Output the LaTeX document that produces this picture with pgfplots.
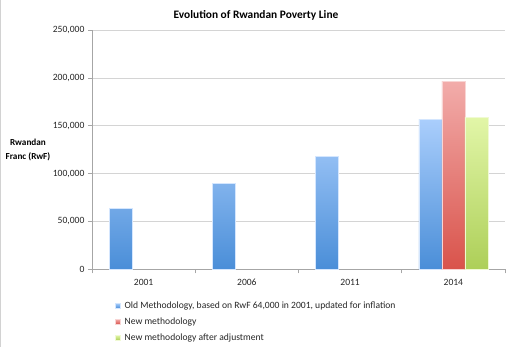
\documentclass[border=0pt]{standalone}
\usepackage{pgfplots}
\pgfplotsset{compat=1.18}
\usepackage{fontspec}
\setmainfont{Carlito}
\definecolor{bluetop}{HTML}{AACEFC}
\definecolor{bluebot}{HTML}{4A8ED8}
\definecolor{redtop}{HTML}{F2ACAA}
\definecolor{redbot}{HTML}{D9534B}
\definecolor{greentop}{HTML}{E2F6A8}
\definecolor{greenbot}{HTML}{ADCF58}
\definecolor{gridgray}{HTML}{D4D4D4}
\definecolor{axisgray}{HTML}{A6A6A6}
\begin{document}
\begin{tikzpicture}
\useasboundingbox (-92pt,-77.7pt) rectangle (420pt,269.3pt);
\draw[gray!35, line width=0.8pt] (-91.3pt,-77.7pt) -- (-91.3pt,269.3pt);
\node[font=\fontsize{11.4}{13}\selectfont\bfseries] at (164pt,253.8pt) {Evolution of Rwandan Poverty Line};
\node[font=\fontsize{9.2}{13.7}\selectfont\bfseries, align=center] at (-64pt,119.3pt) {Rwandan\\Franc (RwF)};
\begin{axis}[
  at={(0pt,0pt)}, anchor=south west,
  scale only axis, width=413pt, height=239.3pt,
  ymin=0, ymax=250000, xmin=-0.5, xmax=3.5,
  ybar=0pt, bar width=23pt,
  xtick={0,1,2,3}, xticklabels={2001,2006,2011,2014},
  major x tick style={draw=none},
  minor xtick={-0.5,0.5,1.5,2.5,3.5},
  ytick={0,50000,100000,150000,200000,250000},
  scaled y ticks=false,
  yticklabel style={/pgf/number format/.cd, fixed, 1000 sep={,}, assume math mode=true},
  ymajorgrids, grid style={color=gridgray, line width=0.7pt},
  axis lines*=left,
  tick align=outside, major tick length=4pt, minor tick length=4pt,
  every tick/.style={color=axisgray, line width=0.7pt},
  axis line style={color=axisgray, line width=0.7pt},
  ticklabel style={font=\fontsize{9.6}{11}\selectfont, text=black!85},
  xticklabel style={yshift=-2.5pt},
  legend style={draw=none, fill=none, at={(axis description cs:0.0484,-0.1241)}, anchor=north west,
    font=\fontsize{9.6}{11}\selectfont, text=black!85, cells={anchor=west},
    nodes={inner sep=0pt, text height=7pt, text depth=2pt}, row sep=7pt, column sep=4pt},
  legend image code/.code={\fill[#1] (0pt,-2.5pt) rectangle (5pt,2.5pt);},
]
\addplot[draw=bluetop!50!white, line width=0.4pt, top color=bluetop, bottom color=bluebot] coordinates {(0,64000) (1,90000) (2,118000) (3,157000)};
\addlegendentry{{Old Methodology, based on RwF 64,000 in 2001, updated for inflation}}
\addplot[draw=redtop!50!white, line width=0.4pt, top color=redtop, bottom color=redbot] coordinates {(3,196000)};
\addlegendentry{New methodology}
\addplot[draw=greentop!50!white, line width=0.4pt, top color=greentop, bottom color=greenbot] coordinates {(3,159000)};
\addlegendentry{New methodology after adjustment}
\end{axis}
\end{tikzpicture}
\end{document}
